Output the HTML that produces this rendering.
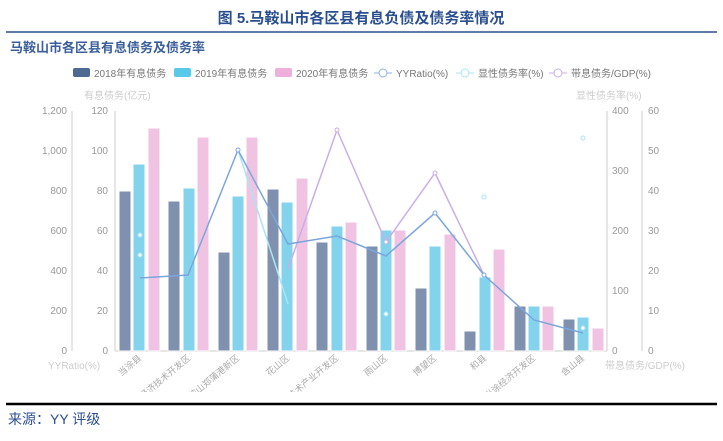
<!DOCTYPE html>
<html><head><meta charset="utf-8"><style>
body{margin:0;width:723px;height:436px;background:#fff;overflow:hidden;font-family:"Liberation Sans","Noto Sans CJK SC",sans-serif}
</style></head><body>
<svg width="723" height="436" xmlns="http://www.w3.org/2000/svg" font-family="Liberation Sans, Noto Sans CJK SC, sans-serif">
<defs><clipPath id="lc"><rect x="0" y="352" width="723" height="40"/></clipPath></defs>
<text x="361" y="23" text-anchor="middle" font-size="15" font-weight="bold" fill="#2a4f8f">图 5.马鞍山市各区县有息负债及债务率情况</text>
<line x1="6" y1="32" x2="717" y2="32" stroke="#2a4f8f" stroke-width="1.5"/>
<text x="10" y="52" font-size="13" font-weight="bold" fill="#3b5f9a">马鞍山市各区县有息债务及债务率</text>
<g font-size="10" fill="#777">
<rect x="73" y="68" width="17" height="9" rx="2" fill="#4e6a93"/><text x="94" y="77">2018年有息债务</text>
<rect x="174" y="68" width="17" height="9" rx="2" fill="#5ac8e8"/><text x="195" y="77">2019年有息债务</text>
<rect x="275" y="68" width="17" height="9" rx="2" fill="#eeafdb"/><text x="296" y="77">2020年有息债务</text>
<line x1="374" y1="73" x2="392" y2="73" stroke="#8fb2e6"/><circle cx="383" cy="73" r="4" fill="#fff" stroke="#8fb2e6"/><text x="396" y="77">YYRatio(%)</text>
<line x1="456" y1="73" x2="474" y2="73" stroke="#a8e6f2"/><circle cx="465" cy="73" r="4" fill="#fff" stroke="#a8e6f2"/><text x="478" y="77">显性债务率(%)</text>
<line x1="549" y1="73" x2="567" y2="73" stroke="#c9aee8"/><circle cx="558" cy="73" r="4" fill="#fff" stroke="#c9aee8"/><text x="571" y="77">带息债务/GDP(%)</text>
</g>
<g font-size="10" fill="#ccc">
<text x="84" y="99">有息债务(亿元)</text>
<text x="576" y="99">显性债务率(%)</text>
<text x="48" y="369">YYRatio(%)</text>
<text x="605" y="369">带息债务/GDP(%)</text>
</g>
<g stroke="#ddd" stroke-width="1.5"><line x1="72" y1="111" x2="72" y2="351"/><line x1="115" y1="111" x2="115" y2="351"/><line x1="607" y1="111" x2="607" y2="351"/><line x1="642" y1="111" x2="642" y2="351"/><line x1="115" y1="351" x2="607" y2="351" stroke="#e6e6e6" stroke-width="2"/></g>
<g font-size="10" fill="#999" text-anchor="end">
<text x="67" y="114">1,200</text><text x="67" y="154">1,000</text><text x="67" y="194">800</text><text x="67" y="234">600</text><text x="67" y="274">400</text><text x="67" y="314">200</text><text x="67" y="354">0</text>
<text x="108" y="114">120</text><text x="108" y="154">100</text><text x="108" y="194">80</text><text x="108" y="234">60</text><text x="108" y="274">40</text><text x="108" y="314">20</text><text x="108" y="354">0</text>
</g>
<g font-size="10" fill="#999">
<text x="612" y="114">400</text><text x="612" y="174">300</text><text x="612" y="234">200</text><text x="612" y="294">100</text><text x="612" y="354">0</text>
<text x="648" y="114">60</text><text x="648" y="154">50</text><text x="648" y="194">40</text><text x="648" y="234">30</text><text x="648" y="274">20</text><text x="648" y="314">10</text><text x="648" y="354">0</text>
</g>
<g stroke="#fff" stroke-width="1">
<g fill="#7f91ae">
<rect x="119" y="191" width="12" height="160"/><rect x="168" y="201" width="12" height="150"/><rect x="218" y="252" width="12" height="99"/><rect x="267" y="189" width="12" height="162"/><rect x="316" y="242" width="12" height="109"/><rect x="366" y="246" width="12" height="105"/><rect x="415" y="288" width="12" height="63"/><rect x="464" y="331" width="12" height="20"/><rect x="514" y="306" width="12" height="45"/><rect x="563" y="319" width="12" height="32"/>
</g>
<g fill="#84d3ec">
<rect x="133" y="164" width="12" height="187"/><rect x="183" y="188" width="12" height="163"/><rect x="232" y="196" width="12" height="155"/><rect x="281" y="202" width="12" height="149"/><rect x="331" y="226" width="12" height="125"/><rect x="380" y="230" width="12" height="121"/><rect x="429" y="246" width="12" height="105"/><rect x="479" y="277" width="12" height="74"/><rect x="528" y="306" width="12" height="45"/><rect x="577" y="317" width="12" height="34"/>
</g>
<g fill="#f1c3e3">
<rect x="148" y="128" width="12" height="223"/><rect x="197" y="137" width="12" height="214"/><rect x="246" y="137" width="12" height="214"/><rect x="296" y="178" width="12" height="173"/><rect x="345" y="222" width="12" height="129"/><rect x="394" y="230" width="12" height="121"/><rect x="444" y="234" width="12" height="117"/><rect x="493" y="249" width="12" height="102"/><rect x="542" y="306" width="12" height="45"/><rect x="592" y="328" width="12" height="23"/>
</g>
</g>
<polyline points="238,150 288,304" fill="none" stroke="#a8e6f2" stroke-width="1.5"/>
<polyline points="288,269 337,130 386,242 435,173 484,275" fill="none" stroke="#c9aee8" stroke-width="1.5"/>
<polyline points="140,278 188,275 238,150 288,244 337,236 386,256 435,213 484,275 534,320 583,333" fill="none" stroke="#7aa6de" stroke-width="1.5"/>
<g fill="#fff" stroke="#a8e6f2"><circle cx="140" cy="235" r="2"/><circle cx="140" cy="255" r="2"/><circle cx="386" cy="314" r="2"/><circle cx="484" cy="197" r="2"/><circle cx="583" cy="138" r="2"/><circle cx="583" cy="328" r="2"/></g>
<g fill="#fff" stroke="#c9aee8"><circle cx="337" cy="130" r="2"/><circle cx="435" cy="173" r="2"/><circle cx="386" cy="242" r="2"/></g>
<g fill="#fff" stroke="#7aa6de"><circle cx="238" cy="150" r="2"/><circle cx="435" cy="213" r="2"/><circle cx="484" cy="275" r="2"/></g>
<g font-size="9" fill="#aaa" text-anchor="end" clip-path="url(#lc)">
<text transform="translate(142,359) rotate(-40)">当涂县</text>
<text transform="translate(191,359) rotate(-40)">马鞍山经济技术开发区</text>
<text transform="translate(240,359) rotate(-40)">马鞍山郑蒲港新区</text>
<text transform="translate(290,359) rotate(-40)">花山区</text>
<text transform="translate(339,359) rotate(-40)">马鞍山慈湖高新技术产业开发区</text>
<text transform="translate(388,359) rotate(-40)">雨山区</text>
<text transform="translate(437,359) rotate(-40)">博望区</text>
<text transform="translate(487,359) rotate(-40)">和县</text>
<text transform="translate(536,359) rotate(-40)">安徽当涂经济开发区</text>
<text transform="translate(585,359) rotate(-40)">含山县</text>
</g>
<line x1="6" y1="404" x2="717" y2="404" stroke="#000" stroke-width="2.5"/>
<text x="8" y="424" font-size="14" fill="#2a4f8f">来源：YY 评级</text>
</svg>
</body></html>
